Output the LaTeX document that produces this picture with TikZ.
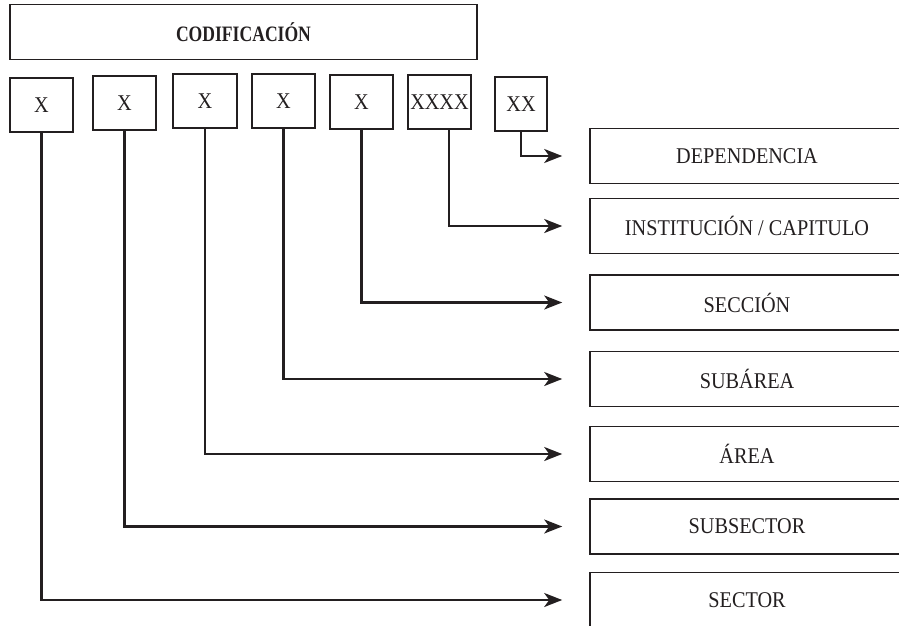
\documentclass[tikz,border=0pt]{standalone}
\usepackage{fontspec}
\setmainfont{Liberation Serif}
\newfontfamily\condfont[FakeStretch=0.9]{Liberation Serif}
\newfontfamily\boldcond[FakeStretch=0.8]{Liberation Serif}
\usetikzlibrary{arrows.meta,calc}
\definecolor{ink}{HTML}{231F20}
\begin{document}
\begin{tikzpicture}[x=1pt,y=-1pt,
  box/.style={draw=ink,line width=1.6pt,inner sep=0pt,text=ink,font=\condfont\fontsize{22.5}{24}\selectfont},
  digit/.style={box,minimum width=63pt,minimum height=54pt},
  label/.style={box,minimum width=314pt,minimum height=55pt},
  conn/.style={draw=ink,line width=2.1pt,-{Stealth[length=18pt,width=14pt,inset=5pt]},shorten >=27pt}]
\useasboundingbox (0,0) rectangle (899,626);
\node[box,minimum width=467pt,minimum height=55pt,font=\boldcond\bfseries\fontsize{22}{24}\selectfont] (cod) at (243.5,32) {CODIFICACIÓN};
\node[digit] (x1) at (41.5,105) {X};
\node[digit] (x2) at (124.5,103) {X};
\node[digit,minimum width=64pt] (x3) at (205,101) {X};
\node[digit] (x4) at (283.5,101) {X};
\node[digit] (x5) at (361.5,102) {X};
\node[digit] (x6) at (439.5,102) {XXXX};
\node[digit,minimum width=52pt] (x7) at (521,104) {XX};
\node[label] (dep) at (747,156) {DEPENDENCIA};
\node[label] (ins) at (747,226) {INSTITUCIÓN / CAPITULO};
\node[label] (sec) at (747,302.5) {SECCIÓN};
\node[label] (sua) at (747,379) {SUBÁREA};
\node[label] (are) at (747,454) {ÁREA};
\node[label] (sus) at (747,526.5) {SUBSECTOR};
\node[label] (sct) at (747,600) {SECTOR};
\draw[conn] (x7.south) |- (dep.west);
\draw[conn] ($(x6.south)+(9.5,0)$) |- (ins.west);
\draw[conn] (x5.south) |- (sec.west);
\draw[conn] (x4.south) |- (sua.west);
\draw[conn] (x3.south) |- (are.west);
\draw[conn] (x2.south) |- (sus.west);
\draw[conn] (x1.south) |- (sct.west);
\end{tikzpicture}
\end{document}
